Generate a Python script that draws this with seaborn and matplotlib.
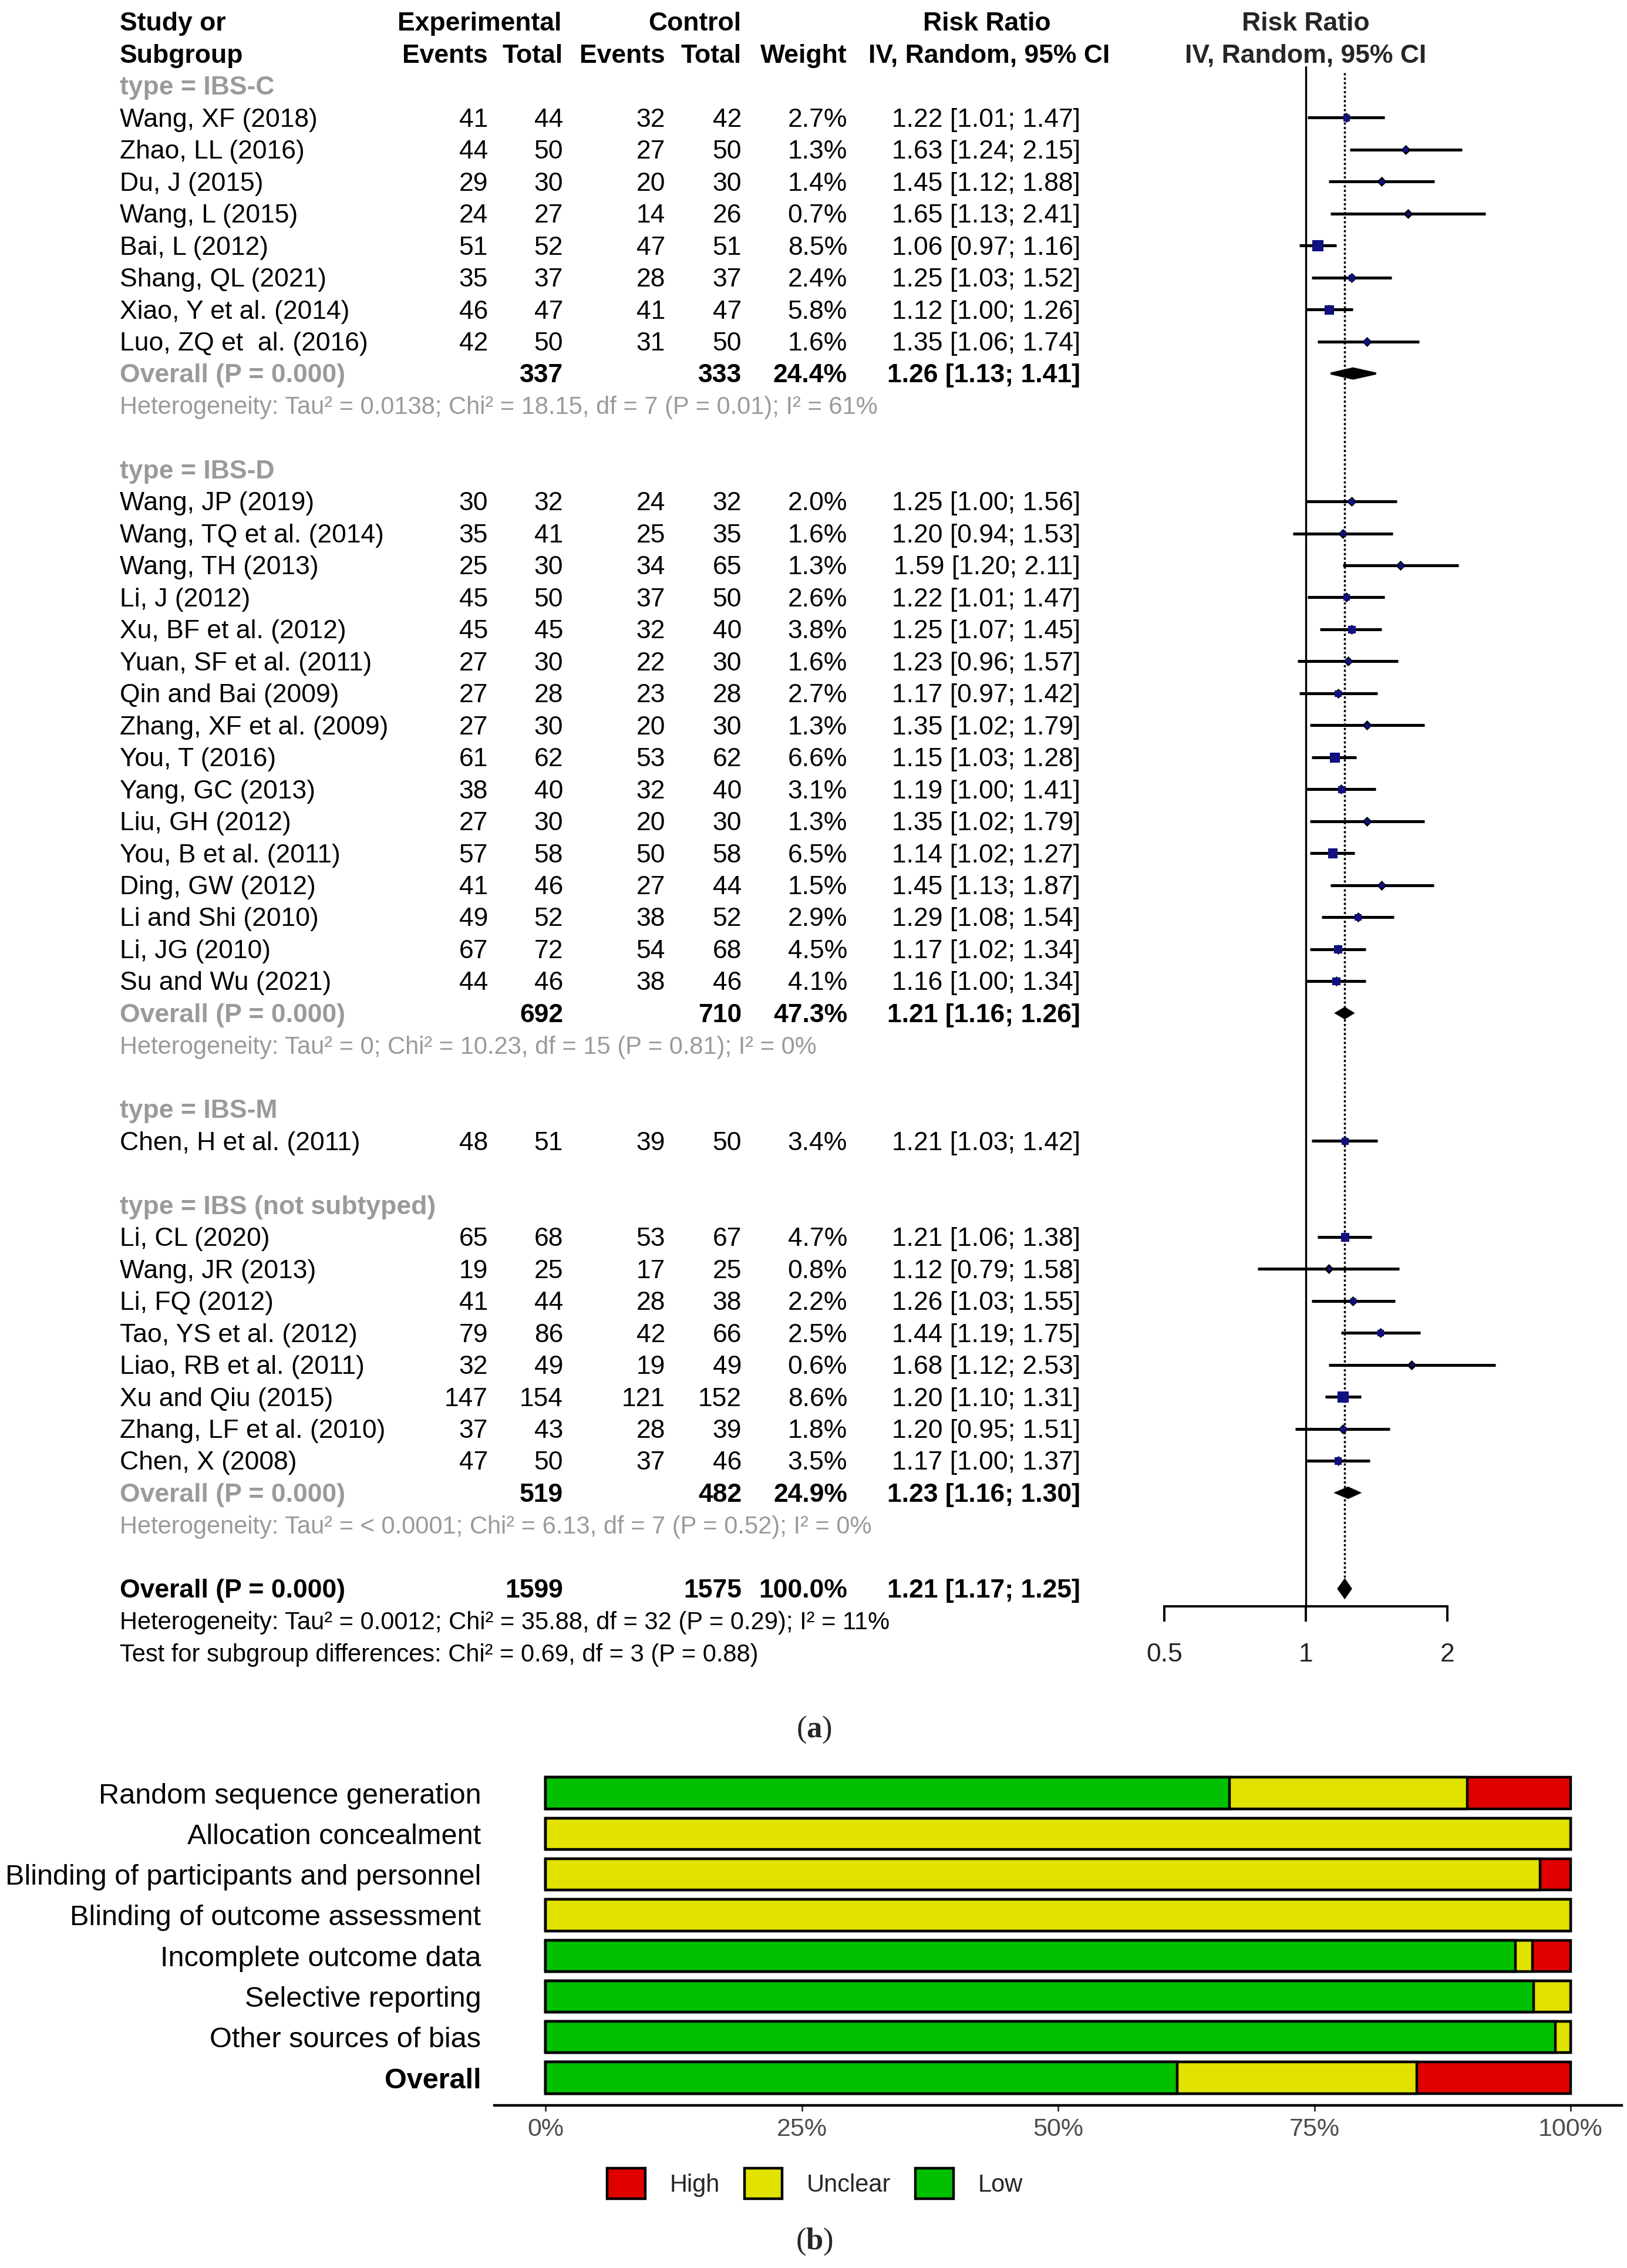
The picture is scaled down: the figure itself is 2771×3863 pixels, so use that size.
import numpy as np
import pandas as pd
import matplotlib
matplotlib.use("Agg")
import matplotlib.pyplot as plt
import matplotlib.transforms as mtransforms
from matplotlib.patches import Patch, Polygon
from matplotlib.ticker import FixedLocator, FixedFormatter, NullLocator
import seaborn as sns

# ------------------------------------------------------------------ data (a)
groups = ["IBS-C", "IBS-D", "IBS-M", "IBS (not subtyped)"]

study_names = [
    "Wang, XF (2018)", "Zhao, LL (2016)", "Du, J (2015)", "Wang, L (2015)",
    "Bai, L (2012)", "Shang, QL (2021)", "Xiao, Y et al. (2014)", "Luo, ZQ et  al. (2016)",
    "Wang, JP (2019)", "Wang, TQ et al. (2014)", "Wang, TH (2013)", "Li, J (2012)",
    "Xu, BF et al. (2012)", "Yuan, SF et al. (2011)", "Qin and Bai (2009)",
    "Zhang, XF et al. (2009)", "You, T (2016)", "Yang, GC (2013)", "Liu, GH (2012)",
    "You, B et al. (2011)", "Ding, GW (2012)", "Li and Shi (2010)", "Li, JG (2010)",
    "Su and Wu (2021)",
    "Chen, H et al. (2011)",
    "Li, CL (2020)", "Wang, JR (2013)", "Li, FQ (2012)", "Tao, YS et al. (2012)",
    "Liao, RB et al. (2011)", "Xu and Qiu (2015)", "Zhang, LF et al. (2010)", "Chen, X (2008)",
]
study_group = (["IBS-C"] * 8 + ["IBS-D"] * 16 + ["IBS-M"] * 1 + ["IBS (not subtyped)"] * 8)
exp_events = [41, 44, 29, 24, 51, 35, 46, 42,
              30, 35, 25, 45, 45, 27, 27, 27, 61, 38, 27, 57, 41, 49, 67, 44,
              48,
              65, 19, 41, 79, 32, 147, 37, 47]
exp_total = [44, 50, 30, 27, 52, 37, 47, 50,
             32, 41, 30, 50, 45, 30, 28, 30, 62, 40, 30, 58, 46, 52, 72, 46,
             51,
             68, 25, 44, 86, 49, 154, 43, 50]
ctl_events = [32, 27, 20, 14, 47, 28, 41, 31,
              24, 25, 34, 37, 32, 22, 23, 20, 53, 32, 20, 50, 27, 38, 54, 38,
              39,
              53, 17, 28, 42, 19, 121, 28, 37]
ctl_total = [42, 50, 30, 26, 51, 37, 47, 50,
             32, 35, 65, 50, 40, 30, 28, 30, 62, 40, 30, 58, 44, 52, 68, 46,
             50,
             67, 25, 38, 66, 49, 152, 39, 46]
weights = [2.7, 1.3, 1.4, 0.7, 8.5, 2.4, 5.8, 1.6,
           2.0, 1.6, 1.3, 2.6, 3.8, 1.6, 2.7, 1.3, 6.6, 3.1, 1.3, 6.5, 1.5, 2.9, 4.5, 4.1,
           3.4,
           4.7, 0.8, 2.2, 2.5, 0.6, 8.6, 1.8, 3.5]
rr = [1.22, 1.63, 1.45, 1.65, 1.06, 1.25, 1.12, 1.35,
      1.25, 1.20, 1.59, 1.22, 1.25, 1.23, 1.17, 1.35, 1.15, 1.19, 1.35, 1.14, 1.45, 1.29, 1.17, 1.16,
      1.21,
      1.21, 1.12, 1.26, 1.44, 1.68, 1.20, 1.20, 1.17]
rr_lo = [1.01, 1.24, 1.12, 1.13, 0.97, 1.03, 1.00, 1.06,
         1.00, 0.94, 1.20, 1.01, 1.07, 0.96, 0.97, 1.02, 1.03, 1.00, 1.02, 1.02, 1.13, 1.08, 1.02, 1.00,
         1.03,
         1.06, 0.79, 1.03, 1.19, 1.12, 1.10, 0.95, 1.00]
rr_hi = [1.47, 2.15, 1.88, 2.41, 1.16, 1.52, 1.26, 1.74,
         1.56, 1.53, 2.11, 1.47, 1.45, 1.57, 1.42, 1.79, 1.28, 1.41, 1.79, 1.27, 1.87, 1.54, 1.34, 1.34,
         1.42,
         1.38, 1.58, 1.55, 1.75, 2.53, 1.31, 1.51, 1.37]

# subgroup summaries (IBS-M has a single study, no summary)
sub_groups = ["IBS-C", "IBS-D", "IBS (not subtyped)"]
sub_exp_total = [337, 692, 519]
sub_ctl_total = [333, 710, 482]
sub_weight = [24.4, 47.3, 24.9]
sub_rr = [1.26, 1.21, 1.23]
sub_lo = [1.13, 1.16, 1.16]
sub_hi = [1.41, 1.26, 1.30]
sub_het = [
    "Heterogeneity: Tau² = 0.0138; Chi² = 18.15, df = 7 (P = 0.01); I² = 61%",
    "Heterogeneity: Tau² = 0; Chi² = 10.23, df = 15 (P = 0.81); I² = 0%",
    "Heterogeneity: Tau² = < 0.0001; Chi² = 6.13, df = 7 (P = 0.52); I² = 0%",
]

overall_exp_total = 1599
overall_ctl_total = 1575
overall_weight = 100.0
overall_rr = 1.21
overall_lo = 1.17
overall_hi = 1.25
overall_het = "Heterogeneity: Tau² = 0.0012; Chi² = 35.88, df = 32 (P = 0.29); I² = 11%"
subgroup_test = "Test for subgroup differences: Chi² = 0.69, df = 3 (P = 0.88)"

x_ticks = [0.5, 1, 2]
x_ticklabels = ["0.5", "1", "2"]

# ------------------------------------------------------------------ data (b)
domains = ["Random sequence generation", "Allocation concealment",
           "Blinding of participants and personnel", "Blinding of outcome assessment",
           "Incomplete outcome data", "Selective reporting", "Other sources of bias", "Overall"]
pct_low = [66.7, 0.0, 0.0, 0.0, 94.6, 96.4, 98.5, 61.6]
pct_unclear = [23.2, 100.0, 97.0, 100.0, 1.7, 3.6, 1.5, 23.4]
pct_high = [10.1, 0.0, 3.0, 0.0, 3.7, 0.0, 0.0, 15.0]
pct_ticks = [0, 25, 50, 75, 100]
pct_ticklabels = ["0%", "25%", "50%", "75%", "100%"]
risk_levels = ["High", "Unclear", "Low"]

# ------------------------------------------------------------------ style
sns.set_theme(style="white")
plt.rcParams["font.family"] = ["Liberation Sans", "DejaVu Sans"]
plt.rcParams["mathtext.fontset"] = "custom"
plt.rcParams["mathtext.rm"] = "Liberation Serif"
plt.rcParams["mathtext.bf"] = "Liberation Serif:bold"

W, H = 2771, 3863
fig = plt.figure(figsize=(W / 100, H / 100), dpi=100)
fig.patch.set_facecolor("white")

FS = 32
FS_FOOT = 30
GRAY = "#9a9a9a"
COL_RED, COL_YEL, COL_GRN = "#e00000", "#e2e200", "#00c000"
DY = 0.07  # small vertical nudge for text baseline


def row_px(r):
    return 37 + 54.47 * r


def x_px(v):
    return 2224 + 241 * np.log2(v)


# ------------------------------------------------------------------ forest axes
xlo, xhi = 0.45, 2.75
ytop, ybot = 1.4, 49.55
left = x_px(xlo) / W
right = x_px(xhi) / W
top = 1 - row_px(ytop) / H
bottom = 1 - row_px(ybot) / H
ax = fig.add_axes([left, bottom, right - left, top - bottom])
ax.set_facecolor("none")

# build row layout
rows_study = []
rows_sub = {}
rows_het = {}
rows_hdr = {}
r = 2
for g in groups:
    rows_hdr[g] = r
    r += 1
    for sg in study_group:
        if sg == g:
            rows_study.append(r)
            r += 1
    if g in sub_groups:
        rows_sub[g] = r
        rows_het[g] = r + 1
        r += 2
    r += 1
row_overall = r
row_overall_het = r + 1
row_test = r + 2

df = pd.DataFrame({"name": study_names, "group": study_group, "row": rows_study,
                   "rr": rr, "lo": rr_lo, "hi": rr_hi, "weight": weights})

# confidence intervals
ax.hlines(df["row"], df["lo"], df["hi"], color="black", lw=3.6, zorder=3)
# point markers
sns.scatterplot(data=df, x="rr", y="row", marker="D", s=75, color="black",
                edgecolor="black", linewidth=0, ax=ax, zorder=4, legend=False)
k_area = 20.0
sns.scatterplot(data=df, x="rr", y="row", size="weight",
                sizes=(k_area * df["weight"].min(), k_area * df["weight"].max()),
                marker="s", color="#101080", edgecolor="#101080", linewidth=0.8,
                ax=ax, zorder=5, legend=False)

# subgroup diamonds
for g, srr, slo, shi in zip(sub_groups, sub_rr, sub_lo, sub_hi):
    yy = rows_sub[g]
    h = 0.16
    ax.add_patch(Polygon([[slo, yy], [srr, yy - h], [shi, yy], [srr, yy + h]],
                         closed=True, facecolor="black", edgecolor="black", lw=2.5, zorder=5))
# overall diamond
h = 0.3
ax.add_patch(Polygon([[overall_lo, row_overall], [overall_rr, row_overall - h],
                      [overall_hi, row_overall], [overall_rr, row_overall + h]],
                     closed=True, facecolor="black", edgecolor="black", lw=1.5, zorder=5))

# reference lines
ax.axvline(1, color="black", lw=2.4, zorder=2)
ax.vlines(overall_rr, 1.6, row_overall - 0.3, color="black", lw=2.5,
          linestyles=(0, (1.1, 1.1)), zorder=2)

ax.set_xscale("log")
ax.set_xlim(xlo, xhi)
ax.set_ylim(ybot, ytop)
ax.set_xlabel("")
ax.set_ylabel("")
for s in ["top", "right", "left"]:
    ax.spines[s].set_visible(False)
ax.spines["bottom"].set_bounds(0.5, 2)
ax.spines["bottom"].set_linewidth(2.8)
ax.spines["bottom"].set_color("black")
ax.xaxis.set_major_locator(FixedLocator(x_ticks))
ax.xaxis.set_major_formatter(FixedFormatter(x_ticklabels))
ax.xaxis.set_minor_locator(NullLocator())
ax.tick_params(axis="x", which="major", direction="out", length=19, width=2.8,
               color="black", labelsize=FS, pad=26, bottom=True)
ax.set_yticks([])

# right header
ax.text(1, 0 + DY, "Risk Ratio", transform=ax.transData, ha="center", va="center",
        fontsize=FS, fontweight="bold", clip_on=False)
ax.text(1, 1 + DY, "IV, Random, 95% CI", transform=ax.transData, ha="center", va="center",
        fontsize=FS, fontweight="bold", clip_on=False)

# ------------------------------------------------------------------ table text
trans = mtransforms.blended_transform_factory(fig.transFigure, ax.transData)


def put(xp, row, s, ha="left", weight="normal", color="black", size=FS):
    ax.text(xp / W, row + DY, s, transform=trans, ha=ha, va="center", fontsize=size,
            fontweight=weight, color=color, clip_on=False)


X_NAME, X_EE, X_ET, X_CE, X_CT, X_W, X_RR = 204, 831, 959, 1133, 1263, 1443, 1840

put(X_NAME, 0, "Study or", weight="bold")
put(X_NAME, 1, "Subgroup", weight="bold")
put(817, 0, "Experimental", ha="center", weight="bold")
put(1183, 0, "Control", ha="center", weight="bold")
put(1681, 0, "Risk Ratio", ha="center", weight="bold")
put(X_EE, 1, "Events", ha="right", weight="bold")
put(X_ET, 1, "Total", ha="right", weight="bold")
put(X_CE, 1, "Events", ha="right", weight="bold")
put(X_CT, 1, "Total", ha="right", weight="bold")
put(X_W, 1, "Weight", ha="right", weight="bold")
put(1890, 1, "IV, Random, 95% CI", ha="right", weight="bold")

for g in groups:
    put(X_NAME, rows_hdr[g], f"type = {g}", color=GRAY, weight="bold")

for i, row in df.iterrows():
    y = row["row"]
    put(X_NAME, y, row["name"])
    put(X_EE, y, str(exp_events[i]), ha="right")
    put(X_ET, y, str(exp_total[i]), ha="right")
    put(X_CE, y, str(ctl_events[i]), ha="right")
    put(X_CT, y, str(ctl_total[i]), ha="right")
    put(X_W, y, f"{weights[i]:.1f}%", ha="right")
    put(X_RR, y, f"{rr[i]:.2f} [{rr_lo[i]:.2f}; {rr_hi[i]:.2f}]", ha="right")

for j, g in enumerate(sub_groups):
    y = rows_sub[g]
    put(X_NAME, y, "Overall (P = 0.000)", color=GRAY, weight="bold")
    put(X_ET, y, str(sub_exp_total[j]), ha="right", weight="bold")
    put(X_CT, y, str(sub_ctl_total[j]), ha="right", weight="bold")
    put(X_W, y, f"{sub_weight[j]:.1f}%", ha="right", weight="bold")
    put(X_RR, y, f"{sub_rr[j]:.2f} [{sub_lo[j]:.2f}; {sub_hi[j]:.2f}]", ha="right", weight="bold")
    put(X_NAME, rows_het[g], sub_het[j], color=GRAY, size=FS_FOOT)

put(X_NAME, row_overall, "Overall (P = 0.000)", weight="bold")
put(X_ET, row_overall, str(overall_exp_total), ha="right", weight="bold")
put(X_CT, row_overall, str(overall_ctl_total), ha="right", weight="bold")
put(X_W, row_overall, f"{overall_weight:.1f}%", ha="right", weight="bold")
put(X_RR, row_overall, f"{overall_rr:.2f} [{overall_lo:.2f}; {overall_hi:.2f}]", ha="right", weight="bold")
put(X_NAME, row_overall_het, overall_het, size=FS_FOOT)
put(X_NAME, row_test, subgroup_test, size=FS_FOOT)

# ------------------------------------------------------------------ (b) risk of bias bars
bar_row0, bar_step = 3054, 69.3
b_ytop, b_ybot = -0.6, 7.68
px0, px100 = 929, 2675            # pixel positions of 0% and 100%
b_xlo, b_xhi = -5, 105
ppp = (px100 - px0) / 100.0
b_left = (px0 + b_xlo * ppp) / W
b_right = (px0 + b_xhi * ppp) / W
b_top = 1 - (bar_row0 + b_ytop * bar_step) / H
b_bottom = 1 - (bar_row0 + b_ybot * bar_step) / H
ax2 = fig.add_axes([b_left, b_bottom, b_right - b_left, b_top - b_bottom])
ax2.set_facecolor("none")

dfb = pd.DataFrame({"domain": domains, "low": pct_low, "unclear": pct_unclear, "high": pct_high})
dfb["cum_high"] = dfb["low"] + dfb["unclear"] + dfb["high"]
dfb["cum_unclear"] = dfb["low"] + dfb["unclear"]
dfb["cum_low"] = dfb["low"]

for col, c in [("cum_high", COL_RED), ("cum_unclear", COL_YEL), ("cum_low", COL_GRN)]:
    sns.barplot(data=dfb, x=col, y="domain", orient="h", color=c, saturation=1,
                edgecolor="black", linewidth=3.2, width=0.77, errorbar=None, ax=ax2)

ax2.set_xlim(b_xlo, b_xhi)
ax2.set_ylim(b_ybot, b_ytop)
ax2.set_xlabel("")
ax2.set_ylabel("")
for s in ["top", "right", "left"]:
    ax2.spines[s].set_visible(False)
ax2.spines["bottom"].set_linewidth(3.2)
ax2.spines["bottom"].set_color("black")
ax2.set_xticks(pct_ticks)
ax2.set_xticklabels(pct_ticklabels)
ax2.tick_params(axis="x", direction="out", length=7, width=2, color="#333333",
                labelcolor="#4d4d4d", labelsize=31, pad=8, bottom=True)
ax2.tick_params(axis="y", length=0, pad=16, labelsize=35, labelcolor="black")
ax2.get_yticklabels()[-1].set_fontweight("bold")

handles = [Patch(facecolor=COL_RED, edgecolor="black", linewidth=3.2, label=risk_levels[0]),
           Patch(facecolor=COL_YEL, edgecolor="black", linewidth=3.2, label=risk_levels[1]),
           Patch(facecolor=COL_GRN, edgecolor="black", linewidth=3.2, label=risk_levels[2])]
fig.legend(handles=handles, loc="center", bbox_to_anchor=(1388 / W, 1 - 3719 / H),
           ncol=3, frameon=False, fontsize=30, handlelength=1.55, handleheight=1.55,
           handletextpad=1.0, columnspacing=1.0)

# panel labels
fig.text(1387 / W, 1 - 2946 / H, r"($\mathbf{a}$)", ha="center", va="center",
         fontsize=38, family="Liberation Serif")
fig.text(1387 / W, 1 - 3818 / H, r"($\mathbf{b}$)", ha="center", va="center",
         fontsize=38, family="Liberation Serif")

fig.savefig("out.png", dpi=100, facecolor="white")
